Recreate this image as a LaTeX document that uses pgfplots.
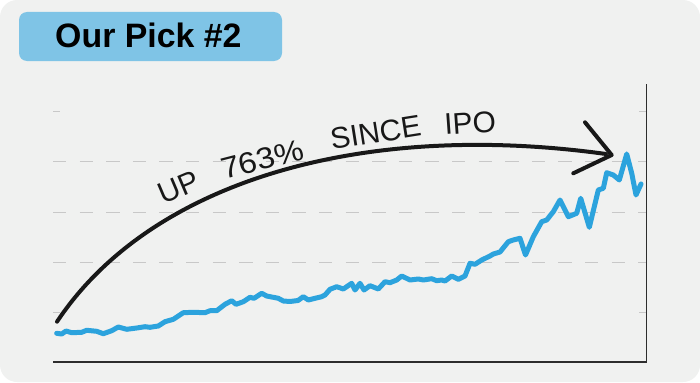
\documentclass[border=0pt]{standalone}
\usepackage{fontspec}
\setmainfont{Liberation Sans}
\usepackage{pgfplots}
\pgfplotsset{compat=1.18}
\definecolor{bg}{RGB}{240,241,240}
\definecolor{gridgray}{RGB}{200,200,200}
\definecolor{axisgray}{RGB}{45,45,45}
\definecolor{lineblue}{RGB}{44,163,221}
\definecolor{labelblue}{RGB}{127,196,230}
\definecolor{ink}{RGB}{24,24,24}
\begin{document}
\begin{tikzpicture}
\begin{scope}[x=1bp,y=1bp]
\path[use as bounding box] (0,0) rectangle (700,382);
\fill[bg, rounded corners=17bp] (0,0) rectangle (700,382);
\end{scope}
\begin{axis}[
  at={(53bp,20bp)}, anchor=south west,
  scale only axis, width=593.7bp, height=278bp,
  xmin=53, xmax=646.7, ymin=0, ymax=278,
  axis x line=bottom, axis y line=right,
  axis line style={-, draw=axisgray, line width=1.3bp},
  xtick=\empty, ytick={100,150,200}, yticklabels={}, major tick length=0pt,
  ymajorgrids, grid style={gridgray, line width=1bp, dash pattern=on 13.3bp off 13.3bp},
  clip=false,
]
\draw[gridgray, line width=1bp] (axis cs:53,50) -- (axis cs:60,50);
\draw[gridgray, line width=1bp] (axis cs:53,250) -- (axis cs:60,250);
\draw[gridgray, line width=1bp] (axis cs:639,50) -- (axis cs:646,50);
\draw[gridgray, line width=1bp] (axis cs:639,250) -- (axis cs:646,250);
\addplot[lineblue, line width=5bp, line join=round, line cap=round] coordinates {
(56.7,28.7) (61.7,28) (66,31) (71.7,29.3) (81.7,29.7) (86.7,31.7) (96.7,30.7)
(103.3,28.3) (111.7,31.3) (118.3,35) (126.7,32.7) (136.7,34) (145,35.3) (150,34.7)
(158.3,36) (165,40.3) (173.3,42.7) (183.3,49.3) (193.3,49.7) (205,49.3) (210,51.3)
(216.7,51.3) (225,57.7) (231.7,61.3) (236,57.7) (243.3,60.3) (250,64.7) (254,63.7)
(261.7,68.7) (266.7,66) (278.3,63.7) (283.3,61) (290,60.5) (298,61.5) (303.3,65.3)
(308.3,62) (315,63.7) (321.7,65.3) (325,67) (330,72.7) (336.7,75.3) (343.3,73)
(351.7,78.7) (355,72) (360,78.7) (364,72) (370,76.3) (378.3,73) (385,80.3) (390,79.3)
(396.7,82) (401.7,86) (410,82) (418.3,83) (423.3,82) (431.7,83.3) (436.7,81.3)
(441.7,82) (445,81) (451.7,86) (458.3,82.7) (465,86) (470,98.7) (475,97.7)
(481.7,102) (490,106) (493.3,108) (500,110) (508.3,120.3) (513.3,122) (520,123.7)
(525.5,107) (533.3,125.3) (541.7,140.3) (546.7,142) (553.3,150.3) (560,162)
(568.3,145.3) (576.7,148.7) (580.7,163.7) (589.3,134.7) (598.3,172) (603.3,173.7)
(606.7,189.3) (613.3,187) (619.3,182) (626.7,208) (631.7,188.7) (636,167) (641,178)
};
\end{axis}
\begin{scope}[x=1bp,y=1bp]
\fill[labelblue, rounded corners=8bp] (19,321) rectangle (282,370);
\node[anchor=base west, inner sep=0pt, font=\fontsize{34}{34}\selectfont\bfseries] at (55,335) {Our Pick \#2};
\draw[ink, line width=4bp, line cap=round] (57,60.3) .. controls (150,200) and (360,262) .. (606,228);
\draw[ink, line width=4bp, line cap=round, line join=round] (585,259.7) -- (611.7,227) -- (573.3,208.7);
\begin{scope}[every node/.style={anchor=base west, inner sep=0pt, text=ink, font=\fontsize{30}{30}\selectfont}]
\node[rotate=23] at (163,177) {UP};
\node[rotate=14.5, xscale=1.1, transform shape] at (224,202) {763\%};
\node[rotate=9] at (332,232) {SINCE};
\node[rotate=4] at (445,247) {IPO};
\end{scope}
\end{scope}
\end{tikzpicture}
\end{document}
